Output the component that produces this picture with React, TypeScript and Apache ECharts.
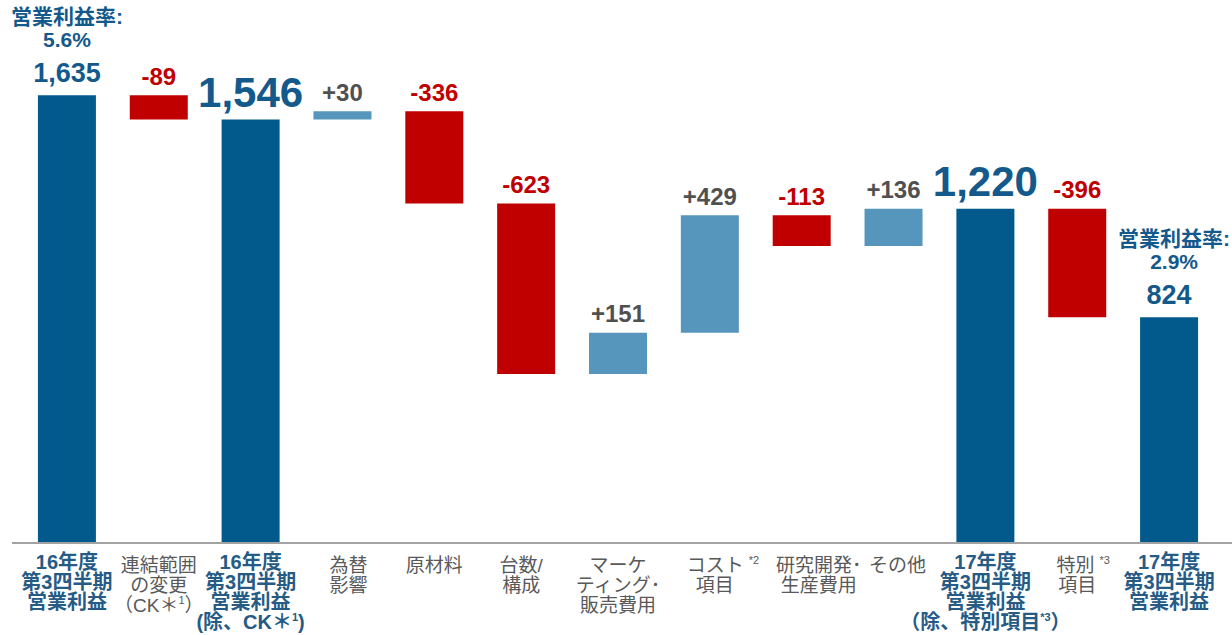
import React, { useEffect, useRef } from "react";
import * as echarts from "echarts";

// ---- data ----
const categories = [
  "16年度第3四半期営業利益",
  "連結範囲の変更（CK＊1）",
  "16年度第3四半期営業利益（除、CK＊1）",
  "為替影響",
  "原材料",
  "台数/構成",
  "マーケティング・販売費用",
  "コスト項目",
  "研究開発・生産費用",
  "その他",
  "17年度第3四半期営業利益（除、特別項目）",
  "特別項目",
  "17年度第3四半期営業利益",
];
const kinds = ["total", "delta", "total", "delta", "delta", "delta", "delta", "delta", "delta", "delta", "total", "delta", "total"];
const values = [1635, -89, 1546, 30, -336, -623, 151, 429, -113, 136, 1220, -396, 824];
const bigTotal = [false, false, true, false, false, false, false, false, false, false, true, false, false];
const marginRates = ["5.6%", "", "", "", "", "", "", "", "", "", "", "", "2.9%"];
const marginTitle = "営業利益率:";

const SP = "{sp| }\n";
const axisLabels = [
  "{b|16年度}\n{b|第3四半期}\n{b|営業利益}",
  SP + "{g|連結範囲}\n{g|の変更}\n{g|（CK＊}{gs|1}{g|）}",
  "{b|16年度}\n{b|第3四半期}\n{b|営業利益}\n{b|(除、CK＊}{bs|1}{b|)}",
  SP + "{gA|為替}\n{gA|影響}",
  SP + "{g|原材料}",
  SP + "{gB|台数/}\n{gB|構成}",
  SP + "{g|マーケ}\n{g|ティング･}\n{g|販売費用}",
  SP + "{gC|コスト}{gsT|*2}\n{gC2|項目}",
  SP + "{gD|研究開発･}\n{gD|生産費用}",
  SP + "{gE|その他}",
  "{b|17年度}\n{b|第3四半期}\n{b|営業利益}\n{b|（除、特別項目}{bs|*3}{b|）}",
  SP + "{gF|特別}{gsT|*3}\n{g|項目}",
  "{b|17年度}\n{b|第3四半期}\n{b|営業利益}",
];

// ---- styles ----
const FONT = "'Liberation Sans', 'Noto Sans CJK JP', sans-serif";
const DARK = "#01598c";
const RED = "#c00000";
const LIGHT = "#5796bc";
const LABEL_BLUE = "#13598b";
const AXIS_BLUE = "#255b85";
const GRAY_TXT = "#505050";
const AXIS_GRAY = "#595959";

function fmtTotal(v: number) {
  return v.toLocaleString("en-US");
}

export default function App() {
  const ref = useRef<HTMLDivElement>(null);

  useEffect(() => {
    if (!ref.current) return;
    const chart = echarts.init(ref.current, null, { renderer: "svg" });

    const base: number[] = [];
    const heights: any[] = [];
    const labels: string[] = [];
    let running = 0;
    values.forEach((v, i) => {
      if (kinds[i] === "total") {
        base.push(0);
        running = v;
        let txt = "";
        let dist = 6;
        if (marginRates[i]) {
          const ms = i === 0 ? "m" : "m2";
          txt = `{${ms}|${marginTitle}}\n{${ms}|${marginRates[i]}}\n{t|${fmtTotal(v)}}`;
          dist = 0;
        } else if (bigTotal[i]) {
          txt = `{T|${fmtTotal(v)}}`;
        } else {
          txt = `{s|${fmtTotal(v)}}`;
        }
        labels.push(txt);
        heights.push({ value: v, itemStyle: { color: DARK }, label: { distance: dist } });
      } else {
        const b = v >= 0 ? running : running + v;
        base.push(b);
        running += v;
        labels.push(v >= 0 ? `{p|+${v}}` : `{n|${v}}`);
        heights.push({ value: Math.abs(v), itemStyle: { color: v >= 0 ? LIGHT : RED }, label: { distance: 7 } });
      }
    });

    const gBase = { fontSize: 19, lineHeight: 20, color: AXIS_GRAY, fontFamily: FONT };
    const gsBase = { fontSize: 11, lineHeight: 12, color: AXIS_GRAY, verticalAlign: "top", fontFamily: FONT };

    const option: any = {
      animation: false,
      textStyle: { fontFamily: FONT },
      grid: { left: 21, right: 17, top: 50, bottom: 92 },
      xAxis: {
        type: "category",
        data: categories,
        axisLine: { show: false },
        axisTick: { show: false },
        axisLabel: {
          interval: 0,
          margin: 9,
          formatter: (_v: string, idx: number) => axisLabels[idx],
          rich: {
            sp: { fontSize: 1, lineHeight: 3, color: "transparent" },
            b: { fontSize: 20, lineHeight: 20, fontWeight: "bold", color: AXIS_BLUE, fontFamily: FONT },
            bs: { fontSize: 11, lineHeight: 12, fontWeight: "bold", color: AXIS_BLUE, verticalAlign: "top", fontFamily: FONT },
            g: { ...gBase },
            gA: { ...gBase, padding: [0, 0, 0, 12] },
            gB: { ...gBase, padding: [0, 10, 0, 0] },
            gC: { ...gBase, padding: [0, 0, 0, 26] },
            gC2: { ...gBase, padding: [0, 0, 0, 10] },
            gD: { ...gBase, padding: [0, 0, 0, 34] },
            gE: { ...gBase, padding: [0, 0, 0, 8] },
            gF: { ...gBase, padding: [0, 0, 0, 12] },
            gs: { ...gsBase },
            gsT: { ...gsBase, padding: [0, 0, 0, 5] },
          },
        },
      },
      yAxis: {
        type: "value",
        min: 0,
        max: 1800,
        show: false,
        splitLine: { show: false },
      },
      series: [
        {
          type: "bar",
          stack: "w",
          barWidth: 58,
          silent: true,
          itemStyle: { color: "transparent" },
          emphasis: { disabled: true },
          data: base,
        },
        {
          type: "bar",
          stack: "w",
          barWidth: 58,
          silent: true,
          emphasis: { disabled: true },
          data: heights,
          label: {
            show: true,
            position: "top",
            formatter: (p: any) => labels[p.dataIndex],
            rich: {
              m: { fontSize: 21, lineHeight: 23, fontWeight: "bold", color: LABEL_BLUE, fontFamily: FONT },
              m2: { fontSize: 21, lineHeight: 23, fontWeight: "bold", color: LABEL_BLUE, fontFamily: FONT, padding: [0, 0, 0, 10] },
              t: { fontSize: 27, lineHeight: 44, fontWeight: "bold", color: LABEL_BLUE, fontFamily: FONT },
              s: { fontSize: 27, lineHeight: 27, fontWeight: "bold", color: LABEL_BLUE, fontFamily: FONT },
              T: { fontSize: 42, lineHeight: 42, fontWeight: "bold", color: LABEL_BLUE, fontFamily: FONT },
              n: { fontSize: 24, lineHeight: 24, fontWeight: "bold", color: RED, fontFamily: FONT },
              p: { fontSize: 24, lineHeight: 24, fontWeight: "bold", color: GRAY_TXT, fontFamily: FONT },
            },
          },
        },
      ],
    };
    chart.setOption(option);

    const y0 = chart.convertToPixel({ yAxisIndex: 0 }, 0) as number;
    chart.setOption({
      graphic: [
        {
          type: "line",
          silent: true,
          shape: { x1: 12, y1: y0, x2: 1232, y2: y0 },
          style: { stroke: "#a3a3a3", lineWidth: 2 },
          z: 10,
        },
      ],
    });

    return () => chart.dispose();
  }, []);

  return (
    <div
      ref={ref}
      style={{ position: "fixed", left: 0, top: 0, width: 1232, height: 635, background: "#ffffff" }}
    />
  );
}
